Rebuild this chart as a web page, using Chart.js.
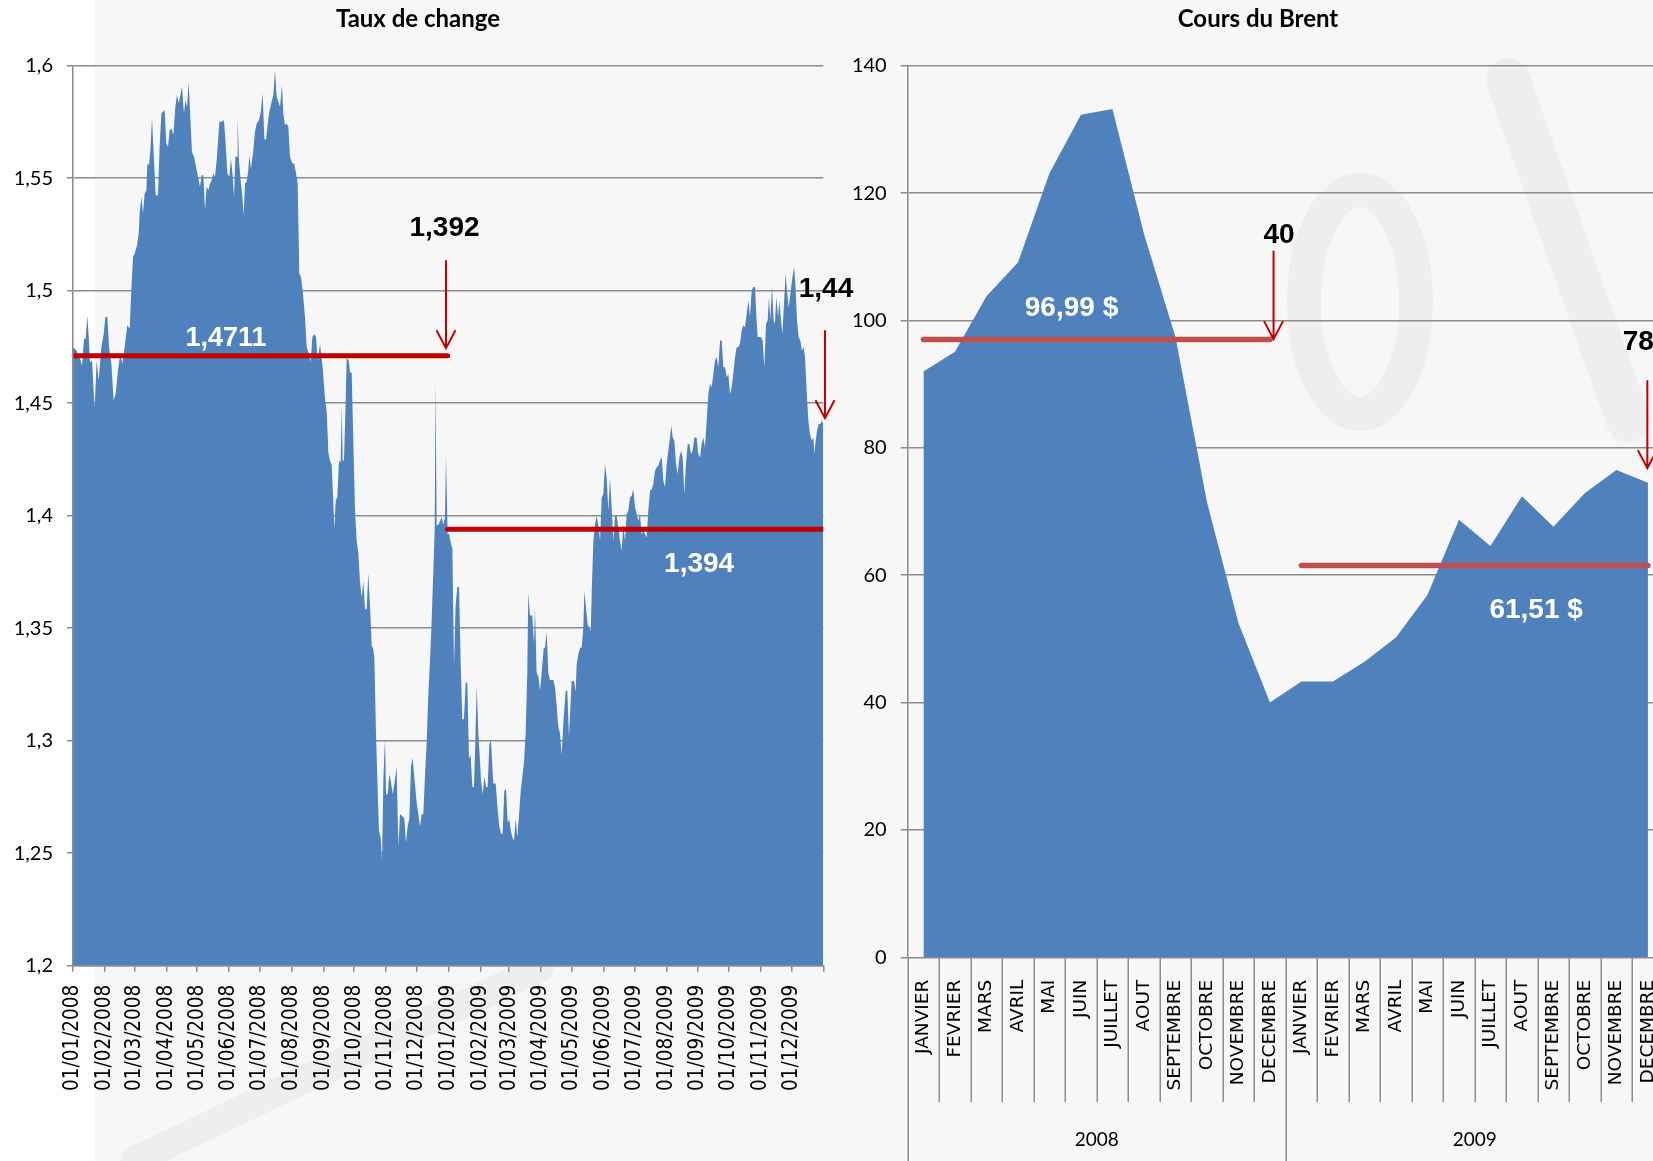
<!DOCTYPE html>
<html>
<head>
<meta charset="utf-8">
<script src="https://cdn.jsdelivr.net/npm/chart.js@4.4.1/dist/chart.umd.min.js"></script>
<style>
  html, body { margin: 0; padding: 0; background: #ffffff; overflow: hidden; }
  #page { position: relative; width: 1653px; height: 1161px; overflow: hidden; background: #ffffff; }
  canvas { position: absolute; top: 0; }
  #paper { left: 0; }
  #fx { left: 0; }
  #brent { left: 840px; }
</style>
</head>
<body>
<div id="page">
  <canvas id="paper" width="1653" height="1161"></canvas>
  <canvas id="fx" width="870" height="1161"></canvas>
  <canvas id="brent" width="830" height="1161"></canvas>
</div>
<script>
// ---------- EUR/USD exchange rate, 2008-2009 ----------
// [days since 01/01/2008, rate]
const eurUsd = [
  [0,1.4749],[3.3,1.4734],[6.5,1.4705],[8.8,1.4668],[10.7,1.4786],[12.3,1.4786],[14.0,1.4890],[15.3,1.4794],
  [16.6,1.4682],[18.5,1.4690],[21.1,1.4482],[23.1,1.4690],[25.0,1.4601],[27.6,1.4749],[29.9,1.4808],[31.5,1.4883],
  [33.5,1.4883],[35.1,1.4749],[37.4,1.4675],[39.6,1.4512],[41.6,1.4541],[43.8,1.4645],[46.1,1.4719],[48.1,1.4675],
  [50.3,1.4749],[52.9,1.4846],[55.2,1.4831],[56.8,1.5001],[58.5,1.5150],[60.1,1.5165],[62.4,1.5202],[64.0,1.5254],
  [65.0,1.5350],[66.6,1.5417],[68.2,1.5343],[69.8,1.5432],[71.5,1.5447],[72.4,1.5565],[74.1,1.5558],[75.4,1.5632],
  [77.0,1.5766],[78.9,1.5580],[80.5,1.5424],[82.8,1.5424],[84.4,1.5640],[86.1,1.5788],[87.7,1.5795],[89.3,1.5803],
  [90.9,1.5654],[92.6,1.5640],[94.2,1.5714],[95.8,1.5721],[97.8,1.5692],[99.7,1.5818],[101.3,1.5870],[103.0,1.5833],
  [104.6,1.5870],[106.2,1.5907],[108.1,1.5788],[109.5,1.5847],[111.1,1.5818],[112.7,1.5929],[114.3,1.5773],[115.9,1.5617],
  [117.9,1.5595],[120.5,1.5536],[122.1,1.5499],[123.7,1.5462],[125.4,1.5513],[127.0,1.5513],[128.6,1.5358],[130.2,1.5462],
  [131.9,1.5447],[133.5,1.5476],[135.1,1.5491],[136.7,1.5521],[138.3,1.5506],[140.0,1.5580],[141.6,1.5684],[142.6,1.5751],
  [144.8,1.5751],[147.1,1.5758],[148.7,1.5654],[150.4,1.5521],[152.3,1.5506],[153.9,1.5588],[155.6,1.5506],[156.9,1.5417],
  [158.2,1.5595],[159.8,1.5595],[160.4,1.5773],[161.7,1.5580],[163.4,1.5491],[165.0,1.5417],[166.3,1.5335],[167.6,1.5476],
  [169.2,1.5484],[170.8,1.5536],[171.8,1.5602],[173.4,1.5543],[175.7,1.5625],[177.3,1.5706],[179.0,1.5743],[181.2,1.5758],
  [183.2,1.5803],[184.8,1.5877],[186.4,1.5677],[188.0,1.5669],[189.7,1.5743],[191.3,1.5795],[193.2,1.5833],[195.2,1.5870],
  [196.8,1.5981],[198.4,1.5862],[200.1,1.5840],[201.7,1.5818],[203.6,1.5914],[204.9,1.5788],[206.5,1.5736],[208.2,1.5743],
  [209.8,1.5729],[211.4,1.5595],[213.7,1.5565],[215.6,1.5565],[217.3,1.5521],[218.9,1.5476],[220.5,1.5076],[222.1,1.5061],
  [223.8,1.5001],[226.0,1.4883],[227.7,1.4749],[229.9,1.4719],[231.6,1.4682],[233.2,1.4794],[235.1,1.4808],[236.8,1.4794],
  [238.4,1.4690],[240.7,1.4762],[243.3,1.4655],[245.5,1.4521],[247.2,1.4459],[248.8,1.4280],[250.4,1.4245],[252.0,1.4227],
  [253.6,1.4066],[254.6,1.3941],[255.9,1.4066],[257.5,1.4084],[259.2,1.4245],[260.8,1.4236],[261.8,1.4495],[262.7,1.4245],
  [264.0,1.4245],[265.7,1.4512],[266.6,1.4700],[268.6,1.4691],[269.9,1.4637],[271.5,1.4637],[273.1,1.4334],[274.7,1.4030],
  [276.4,1.3887],[278.0,1.3834],[279.6,1.3709],[281.2,1.3637],[282.9,1.3709],[284.5,1.3584],[286.1,1.3584],[287.7,1.3744],
  [289.4,1.3602],[291.0,1.3423],[292.6,1.3405],[293.6,1.3369],[295.2,1.3030],[296.5,1.2834],[298.1,1.2601],[299.8,1.2566],
  [301.1,1.2467],[302.4,1.2834],[304.0,1.3012],[305.0,1.2762],[306.6,1.2762],[308.2,1.2851],[309.8,1.2816],[311.5,1.2762],
  [313.4,1.2816],[315.3,1.2887],[317.0,1.2530],[318.6,1.2673],[320.9,1.2664],[322.8,1.2655],[324.4,1.2548],[326.1,1.2619],
  [327.7,1.2655],[329.3,1.2887],[330.9,1.2923],[332.6,1.2834],[334.8,1.2726],[336.5,1.2673],[338.1,1.2619],[339.7,1.2673],
  [341.3,1.2673],[343.0,1.2851],[344.6,1.2994],[346.2,1.3209],[347.8,1.3352],[349.4,1.3530],[351.1,1.3762],[352.4,1.3941],
  [353.3,1.4602],[354.3,1.3959],[355.9,1.3959],[357.6,1.3977],[359.2,1.3994],[360.8,1.3959],[362.4,1.3994],[363.4,1.4262],
  [365.0,1.3917],[366.3,1.3921],[368.3,1.3873],[369.6,1.3857],[371.2,1.3333],[372.8,1.3603],[374.4,1.3683],[376.1,1.3683],
  [377.7,1.3349],[379.3,1.3095],[380.9,1.3095],[382.6,1.3262],[384.2,1.3254],[385.8,1.2921],[387.4,1.2937],[389.1,1.2794],
  [390.7,1.2794],[392.0,1.3000],[393.3,1.3246],[394.9,1.3032],[396.2,1.2937],[397.5,1.2825],[399.1,1.2762],[400.8,1.2841],
  [402.4,1.2794],[404.0,1.2794],[405.6,1.2984],[407.2,1.3000],[409.5,1.2810],[411.8,1.2810],[413.7,1.2698],[415.4,1.2619],
  [417.0,1.2587],[418.6,1.2587],[420.2,1.2778],[421.9,1.2786],[423.5,1.2635],[425.1,1.2651],[426.4,1.2603],[428.0,1.2571],
  [429.7,1.2556],[431.3,1.2651],[432.9,1.2571],[434.5,1.2667],[436.2,1.2778],[437.8,1.2841],[439.4,1.2905],[441.0,1.3032],
  [442.6,1.3302],[443.6,1.3659],[445.2,1.3556],[447.5,1.3556],[449.1,1.3429],[450.1,1.3587],[451.7,1.3302],[453.4,1.3286],
  [455.0,1.3222],[456.6,1.3302],[458.6,1.3413],[459.9,1.3413],[461.5,1.3484],[463.1,1.3302],[464.7,1.3270],[466.4,1.3270],
  [468.0,1.3270],[469.6,1.3238],[471.2,1.3159],[472.8,1.3063],[474.5,1.3032],[476.1,1.2937],[477.7,1.3079],[480.0,1.3222],
  [481.6,1.3222],[483.2,1.3016],[485.8,1.3265],[488.1,1.3265],[489.7,1.3220],[490.7,1.3339],[492.3,1.3384],[494.0,1.3413],
  [495.6,1.3413],[497.2,1.3502],[498.2,1.3666],[499.8,1.3591],[501.4,1.3517],[503.1,1.3502],[504.4,1.3487],[505.7,1.3710],
  [507.0,1.3888],[508.6,1.3962],[510.2,1.3999],[512.2,1.3948],[513.5,1.3888],[515.1,1.4081],[516.7,1.4096],[518.3,1.4230],
  [519.9,1.4170],[521.6,1.4022],[523.2,1.4170],[524.8,1.4037],[526.4,1.3888],[528.1,1.3999],[529.7,1.3999],[531.3,1.3948],
  [532.9,1.3888],[534.6,1.3844],[536.2,1.3962],[537.8,1.3888],[539.4,1.4007],[541.1,1.4022],[542.7,1.4081],[544.3,1.4089],
  [545.9,1.4118],[547.6,1.4037],[549.2,1.4007],[550.8,1.3977],[552.4,1.4007],[554.0,1.3918],[555.7,1.3933],[557.3,1.3918],
  [558.9,1.3903],[560.5,1.4022],[562.2,1.4111],[563.8,1.4118],[565.4,1.4140],[567.0,1.4200],[568.7,1.4215],[570.3,1.4222],
  [571.9,1.4245],[573.5,1.4259],[575.2,1.4155],[576.8,1.4126],[578.4,1.4230],[580.0,1.4289],[581.6,1.4348],[582.9,1.4400],
  [584.3,1.4348],[585.9,1.4333],[587.5,1.4230],[589.1,1.4185],[590.8,1.4259],[592.4,1.4289],[594.0,1.4259],[595.6,1.4096],
  [597.2,1.4230],[598.9,1.4319],[600.5,1.4319],[602.1,1.4274],[603.7,1.4289],[605.4,1.4348],[607.6,1.4348],[609.2,1.4274],
  [610.9,1.4259],[612.5,1.4319],[614.1,1.4348],[615.7,1.4304],[617.4,1.4423],[619.0,1.4541],[620.6,1.4586],[622.2,1.4571],
  [623.9,1.4630],[625.5,1.4690],[627.1,1.4705],[628.7,1.4660],[630.4,1.4779],[632.0,1.4779],[633.6,1.4660],[635.2,1.4660],
  [636.9,1.4615],[638.5,1.4630],[640.1,1.4541],[641.7,1.4571],[643.3,1.4630],[645.0,1.4705],[646.6,1.4749],[648.2,1.4749],
  [649.8,1.4764],[651.5,1.4823],[653.1,1.4846],[654.7,1.4838],[656.3,1.4897],[658.0,1.4957],[659.6,1.4883],[661.2,1.5001],
  [662.8,1.5016],[664.5,1.5016],[665.8,1.4883],[667.1,1.4794],[668.7,1.4794],[670.3,1.4794],[671.9,1.4779],[673.6,1.4660],
  [675.2,1.4853],[676.8,1.4868],[678.1,1.4972],[679.4,1.4868],[681.0,1.5024],[682.6,1.4868],[683.9,1.4853],[685.2,1.4972],
  [686.9,1.4883],[688.2,1.4957],[689.8,1.4868],[691.1,1.4808],[692.7,1.4942],[694.3,1.5076],[695.6,1.5001],[697.3,1.4927],
  [698.9,1.4987],[700.5,1.5046],[702.5,1.5105],[703.8,1.5031],[705.4,1.4868],[707.0,1.4794],[708.6,1.4779],[710.2,1.4734],
  [711.9,1.4749],[713.2,1.4705],[714.8,1.4556],[716.4,1.4423],[718.0,1.4363],[719.7,1.4334],[721.3,1.4348],[722.3,1.4274],
  [723.6,1.4334],[724.9,1.4378],[726.5,1.4408],[728.1,1.4408],[729.4,1.4423],[731.0,1.4406]
];
const fxDateLabels = [
  '01/01/2008','01/02/2008','01/03/2008','01/04/2008','01/05/2008','01/06/2008',
  '01/07/2008','01/08/2008','01/09/2008','01/10/2008','01/11/2008','01/12/2008',
  '01/01/2009','01/02/2009','01/03/2009','01/04/2009','01/05/2009','01/06/2009',
  '01/07/2009','01/08/2009','01/09/2009','01/10/2009','01/11/2009','01/12/2009'
];
const fxAxisEnd = '01/01/2010';
const fxRateTicks = ['1,2','1,25','1,3','1,35','1,4','1,45','1,5','1,55','1,6'];
const fxYearAverages = [1.4711, 1.394];     // 2008, 2009
const fxYearEndRates = [1.392, 1.44];       // 31/12/2008, 31/12/2009

// ---------- Brent crude, monthly average ($) ----------
const brentMonths = [
  'JANVIER','FEVRIER','MARS','AVRIL','MAI','JUIN','JUILLET','AOUT','SEPTEMBRE','OCTOBRE','NOVEMBRE','DECEMBRE',
  'JANVIER','FEVRIER','MARS','AVRIL','MAI','JUIN','JUILLET','AOUT','SEPTEMBRE','OCTOBRE','NOVEMBRE','DECEMBRE'
];
const brentYears = ['2008', '2009'];
const brentPrices = [
  92.0, 95.1, 103.8, 109.1, 123.1, 132.3, 133.2, 113.6, 97.4, 71.5, 52.5, 40.0,
  43.3, 43.3, 46.4, 50.2, 56.9, 68.7, 64.6, 72.4, 67.6, 72.9, 76.5, 74.5
];
const brentYearAverages = [96.99, 61.51];
const brentCallouts = [40, 78];

// ---------- helpers ----------
const GRID = '#8c8c8c';
const AREA = '#4f81bd';
const DARK_RED = '#c00000';
const SOFT_RED = '#c0504d';
const TICK_FONT = { family: 'Lato, "Open Sans", sans-serif', size: 20 };
const CALLOUT_FONT = '"Liberation Sans", Arial, sans-serif';

const dayOf = s => {
  const [d, m, y] = s.split('/').map(Number);
  return (Date.UTC(y, m - 1, d) - Date.UTC(2008, 0, 1)) / 86400000;
};
const frNum = v => String(v).replace('.', ',');
const fxTickDays = [...fxDateLabels, fxAxisEnd].map(dayOf);
const endOf2008 = dayOf('31/12/2008');
const endDay = dayOf(fxAxisEnd);

// Page background: white margin, light grey sheet and its faint watermark strokes
(function paper() {
  const ctx = document.getElementById('paper').getContext('2d');
  ctx.fillStyle = '#ffffff';
  ctx.fillRect(0, 0, 1653, 1161);
  ctx.fillStyle = '#f7f7f7';
  ctx.fillRect(95, 0, 1558, 1161);
  ctx.strokeStyle = 'rgba(0,0,0,0.035)';
  ctx.lineCap = 'round';
  ctx.lineWidth = 34;
  ctx.beginPath();
  ctx.ellipse(1360, 302, 56, 112, 0, 0, Math.PI * 2);
  ctx.stroke();
  ctx.lineWidth = 44;
  ctx.beginPath();
  ctx.moveTo(1508, 80); ctx.lineTo(1628, 420);
  ctx.stroke();
  ctx.lineWidth = 28;
  ctx.beginPath();
  ctx.moveTo(135, 1160); ctx.lineTo(540, 968);
  ctx.stroke();
})();

function arrow(ctx, x, yTop, yTip) {
  ctx.save();
  ctx.strokeStyle = DARK_RED;
  ctx.lineWidth = 2;
  ctx.beginPath();
  ctx.moveTo(x, yTop); ctx.lineTo(x, yTip);
  ctx.moveTo(x - 9.5, yTip - 18); ctx.lineTo(x, yTip); ctx.lineTo(x + 9.5, yTip - 18);
  ctx.stroke();
  ctx.restore();
}
function label(ctx, text, x, y, color, size) {
  ctx.save();
  ctx.font = `bold ${size}px ${CALLOUT_FONT}`;
  ctx.fillStyle = color;
  ctx.textAlign = 'center';
  ctx.textBaseline = 'middle';
  ctx.fillText(text, x, y);
  ctx.restore();
}
function title(ctx, text) {
  ctx.save();
  ctx.font = 'bold 24px Lato, "Open Sans", sans-serif';
  ctx.fillStyle = '#000';
  ctx.textAlign = 'center';
  ctx.textBaseline = 'middle';
  ctx.fillText(text, 418, 19);
  ctx.restore();
}

// ---------- left chart: Taux de change ----------
const fxDecor = {
  id: 'fxDecor',
  afterDraw(chart) {
    const { ctx } = chart;
    const xs = chart.scales.x, ys = chart.scales.y;
    title(ctx, 'Taux de change');

    label(ctx, frNum(fxYearAverages[0]), xs.getPixelForValue(149), ys.getPixelForValue(fxYearAverages[0]) - 17, '#fff', 27);
    label(ctx, frNum(fxYearAverages[1]), xs.getPixelForValue(610), ys.getPixelForValue(fxYearAverages[1]) + 35, '#fff', 28);

    const ax1 = xs.getPixelForValue(endOf2008 - 1.6);
    const tip1 = ys.getPixelForValue(fxYearAverages[0]) - 7.5;
    arrow(ctx, ax1, tip1 - 88, tip1);
    label(ctx, frNum(fxYearEndRates[0]), ax1 - 1.5, tip1 - 120, '#000', 28);

    const ax2 = xs.getPixelForValue(endDay) + 1.7;
    const tip2 = ys.getPixelForValue(fxYearEndRates[1]) - 7.5;
    arrow(ctx, ax2, tip2 - 88, tip2);
    label(ctx, frNum(fxYearEndRates[1]), ax2 + 1, tip2 - 129, '#000', 28);
  }
};

new Chart(document.getElementById('fx'), {
  type: 'line',
  data: {
    datasets: [
      {
        data: [{ x: 0, y: fxYearAverages[0] }, { x: endOf2008, y: fxYearAverages[0] }],
        borderColor: DARK_RED, borderWidth: 5, borderCapStyle: 'round',
        pointRadius: 0, fill: false, order: 0
      },
      {
        data: [{ x: endOf2008, y: fxYearAverages[1] }, { x: endDay, y: fxYearAverages[1] }],
        borderColor: DARK_RED, borderWidth: 5, borderCapStyle: 'round',
        pointRadius: 0, fill: false, order: 0
      },
      {
        data: eurUsd.map(([x, y]) => ({ x, y })),
        backgroundColor: AREA, borderWidth: 0, pointRadius: 0,
        fill: 'start', order: 1
      }
    ]
  },
  options: {
    responsive: false, animation: false, devicePixelRatio: 1,
    layout: { padding: { top: 65.7, right: 46.7, left: 0, bottom: 0 } },
    plugins: { legend: { display: false }, tooltip: { enabled: false } },
    scales: {
      x: {
        type: 'linear', min: 0, max: endDay,
        afterBuildTicks: s => { s.ticks = fxTickDays.map(v => ({ value: v })); },
        afterFit: s => { s.height = 195.3; s.paddingLeft = 0; s.paddingRight = 0; },
        grid: { drawOnChartArea: false, color: GRID, lineWidth: 1.5, tickLength: 6 },
        border: { color: GRID, width: 1.5, z: 1 },
        ticks: {
          autoSkip: false, minRotation: 90, maxRotation: 90, padding: 13, color: '#000',
          font: { family: '"DejaVu Sans Condensed", "DejaVu Sans", sans-serif', size: 20.5 },
          callback: (v, i) => fxDateLabels[i] ?? ''
        }
      },
      y: {
        min: 1.2, max: 1.6,
        afterBuildTicks: s => { s.ticks = fxRateTicks.map(t => ({ value: parseFloat(t.replace(',', '.')) })); },
        afterFit: s => { s.width = 73; },
        grid: { color: GRID, lineWidth: 1.5, tickLength: 6 },
        border: { color: GRID, width: 1.5, z: 1 },
        ticks: { padding: 14, color: '#000', font: TICK_FONT, callback: (v, i) => fxRateTicks[i] }
      }
    }
  },
  plugins: [fxDecor]
});

// ---------- right chart: Cours du Brent ----------
const brentDecor = {
  id: 'brentDecor',
  afterDraw(chart) {
    const { ctx } = chart;
    const xs = chart.scales.x, ys = chart.scales.y;
    const base = chart.chartArea.bottom;
    title(ctx, 'Cours du Brent');

    // two-level category axis: month separators, year separators and year labels
    ctx.save();
    ctx.strokeStyle = GRID;
    ctx.lineWidth = 1.5;
    for (let i = 0; i <= brentMonths.length; i++) {
      const x = Math.round(xs.getPixelForValue(i - 0.5)) + 0.25;
      ctx.beginPath();
      ctx.moveTo(x, base);
      ctx.lineTo(x, i % 12 === 0 ? 1161 : 1102);
      ctx.stroke();
    }
    ctx.restore();
    ctx.save();
    ctx.font = '19px Lato, "Open Sans", sans-serif';
    ctx.fillStyle = '#000';
    ctx.textAlign = 'center';
    ctx.textBaseline = 'middle';
    brentYears.forEach((y, k) => ctx.fillText(y, xs.getPixelForValue(k * 12 + 5.5), 1140));
    ctx.restore();

    label(ctx, frNum(brentYearAverages[0]) + ' $', xs.getPixelForValue(4.7), ys.getPixelForValue(brentYearAverages[0]) - 31, '#fff', 28);
    label(ctx, frNum(brentYearAverages[1]) + ' $', xs.getPixelForValue(19.45), ys.getPixelForValue(brentYearAverages[1]) + 44.3, '#fff', 28);

    const ax1 = xs.getPixelForValue(11) + 3.6;
    const tip1 = ys.getPixelForValue(brentYearAverages[0]) - 0.5;
    arrow(ctx, ax1, tip1 - 88.3, tip1);
    label(ctx, String(brentCallouts[0]), ax1 + 5.4, tip1 - 104, '#000', 28);

    const ax2 = xs.getPixelForValue(23) - 0.6;
    const tip2 = ys.getPixelForValue(brentPrices[23]) - 14.7;
    arrow(ctx, ax2, tip2 - 88, tip2);
    label(ctx, String(brentCallouts[1]), ax2 - 9, tip2 - 126.3, '#000', 28);
  }
};

new Chart(document.getElementById('brent'), {
  type: 'line',
  data: {
    labels: brentMonths,
    datasets: [
      {
        data: brentMonths.map((m, i) => i < 12 ? brentYearAverages[0] : null),
        borderColor: SOFT_RED, borderWidth: 5.5, borderCapStyle: 'round',
        pointRadius: 0, fill: false, order: 0
      },
      {
        data: brentMonths.map((m, i) => i >= 12 ? brentYearAverages[1] : null),
        borderColor: SOFT_RED, borderWidth: 5.5, borderCapStyle: 'round',
        pointRadius: 0, fill: false, order: 0
      },
      {
        data: brentPrices,
        backgroundColor: AREA, borderWidth: 0, pointRadius: 0,
        fill: 'origin', order: 1
      }
    ]
  },
  options: {
    responsive: false, animation: false, devicePixelRatio: 1,
    layout: { padding: { top: 65.7, right: 6.3, left: 0, bottom: 0 } },
    plugins: { legend: { display: false }, tooltip: { enabled: false } },
    scales: {
      x: {
        type: 'category', offset: true,
        afterFit: s => { s.height = 1161 - 957.3; s.paddingLeft = 0; s.paddingRight = 0; },
        grid: { display: false },
        border: { display: false },
        ticks: {
          autoSkip: false, minRotation: 90, maxRotation: 90, padding: 14.4, color: '#000',
          font: { family: '"DejaVu Sans", sans-serif', size: 18.5 }
        }
      },
      y: {
        min: 0, max: 140,
        afterFit: s => { s.width = 67.7; },
        grid: { color: GRID, lineWidth: 1.5, tickLength: 7 },
        border: { color: GRID, width: 1.5, z: 1 },
        ticks: { stepSize: 20, padding: 14, color: '#000', font: TICK_FONT }
      }
    }
  },
  plugins: [brentDecor]
});
</script>
</body>
</html>
